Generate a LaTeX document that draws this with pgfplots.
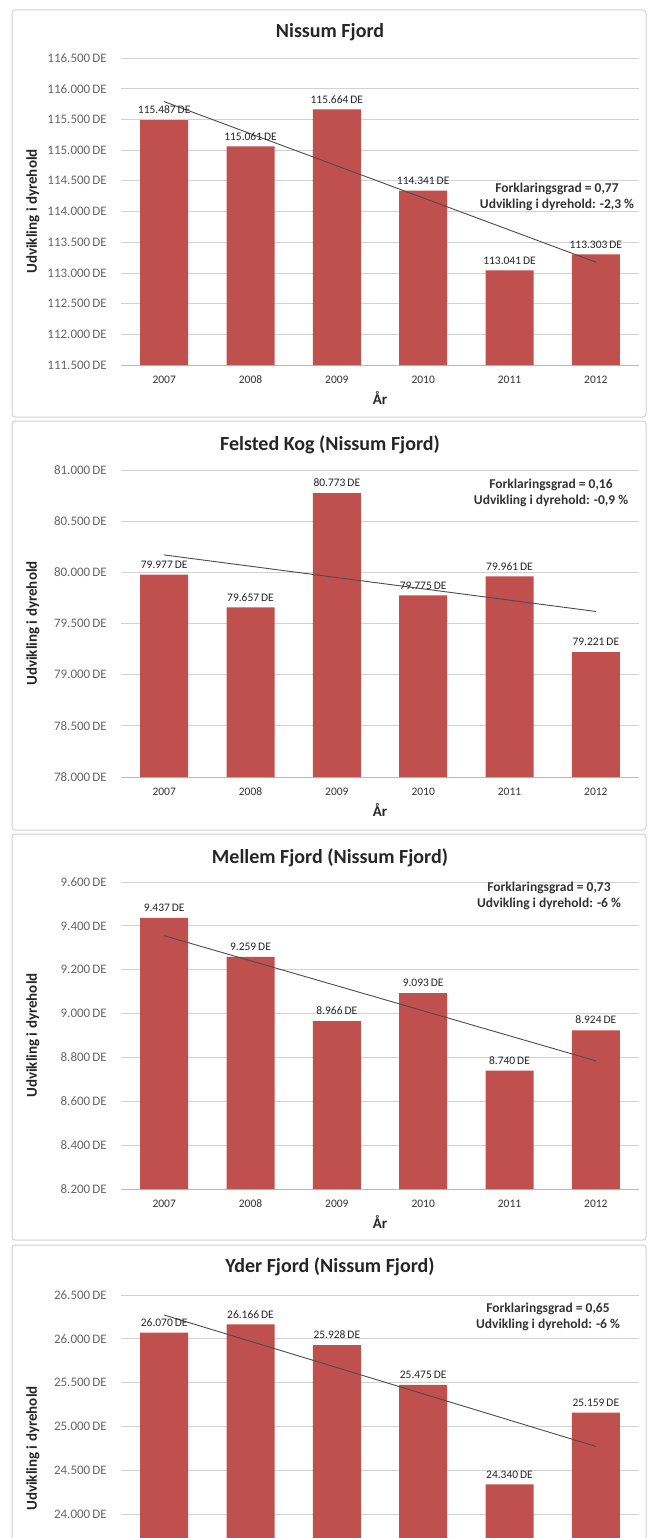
\documentclass[border=0pt]{standalone}
\usepackage{fontspec}
\setmainfont{Carlito}
\usepackage{pgfplots}
\usepackage{pgfplotstable}
\pgfplotsset{compat=1.18}
\definecolor{barred}{RGB}{192,80,77}

\pgfplotstableread{
x y
0 115487
1 115061
2 115664
3 114341
4 113041
5 113303
}\dataA
\pgfplotstableread{
x y
0 79977
1 79657
2 80773
3 79775
4 79961
5 79221
}\dataB
\pgfplotstableread{
x y
0 9437
1 9259
2 8966
3 9093
4 8740
5 8924
}\dataC
\pgfplotstableread{
x y
0 26070
1 26166
2 25928
3 25475
4 24340
5 25159
}\dataD

\pgfplotsset{
  panel/.style={
    scale only axis, width=518pt, height=307pt, anchor=north west,
    xmin=-0.5, xmax=5.5, enlargelimits=false,
    xtick={0,...,5}, xticklabels={2007,2008,2009,2010,2011,2012},
    scaled y ticks=false,
    axis x line*=bottom, axis y line*=left,
    y axis line style={draw=none},
    x axis line style={draw=gray!55, line width=0.8pt},
    major tick length=0pt,
    ymajorgrids, grid style={draw=gray!35, line width=0.8pt},
    yticklabel={\pgfmathprintnumber[fixed,precision=0,1000 sep={.},assume math mode=true]{\tick}\,DE},
    yticklabel style={font=\fontsize{13}{15}\selectfont, text=black!60, anchor=east, inner sep=0pt, xshift=-14pt},
    xticklabel style={font=\fontsize{11.5}{14}\selectfont, text=black!80, anchor=center, yshift=-15pt},
    xlabel={År},
    every axis x label/.style={at={(axis description cs:0.5,0)}, yshift=-33pt, anchor=center, font=\bfseries\fontsize{15}{18}\selectfont, text=black!85},
    ylabel={Udvikling i dyrehold},
    every axis y label/.style={at={(axis description cs:0,0.5)}, xshift=-88pt, rotate=90, anchor=center, font=\bfseries\fontsize{15}{18}\selectfont, text=black!85},
    clip=false,
  },
  bars/.style={ybar, bar width=48pt, fill=barred, draw=none,
    nodes near coords={\pgfmathprintnumber[fixed,precision=0,1000 sep={.},assume math mode=true]{\pgfplotspointmeta}\,DE},
    nodes near coords style={font=\fontsize{11.5}{13}\selectfont, text=black!85, anchor=south, inner sep=0pt, yshift=6pt},
  },
  trend/.style={black!70, line width=0.9pt, no markers, sharp plot},
}
\tikzset{
  frame/.style={draw=gray!35, line width=1pt, rounded corners=3pt},
  ttl/.style={font=\bfseries\fontsize{20}{24}\selectfont, text=black!85},
  ann/.style={font=\bfseries\fontsize{13.5}{16.5}\selectfont, text=black!80, align=center},
}

\begin{document}
\begin{tikzpicture}
\useasboundingbox[fill=white] (0pt,0pt) rectangle (650pt,-1538pt);
\clip (0pt,0pt) rectangle (650pt,-1538pt);
% frames
\draw[frame] (12pt,-10pt) rectangle (646pt,-417pt);
\draw[frame] (12pt,-421pt) rectangle (646pt,-830pt);
\draw[frame] (12pt,-834pt) rectangle (646pt,-1240pt);
\draw[frame] (12pt,-1245pt) rectangle (646pt,-1600pt);

% Panel 1
\begin{axis}[panel, at={(121pt,-58pt)}, ymin=111500, ymax=116500, ytick distance=500]
\addplot[bars] table[x=x,y=y]{\dataA};
\addplot[trend] table[x=x, y={create col/linear regression={y=y}}]{\dataA};
\end{axis}
\node[ttl] at (330pt,-32pt) {Nissum Fjord};
\node[ann] at (557pt,-197pt) {Forklaringsgrad = 0,77\\Udvikling i dyrehold: -2,3 \%};

% Panel 2
\begin{axis}[panel, at={(121pt,-470pt)}, ymin=78000, ymax=81000, ytick distance=500]
\addplot[bars] table[x=x,y=y]{\dataB};
\addplot[trend] table[x=x, y={create col/linear regression={y=y}}]{\dataB};
\end{axis}
\node[ttl] at (330pt,-445pt) {Felsted Kog (Nissum Fjord)};
\node[ann] at (551pt,-493pt) {Forklaringsgrad = 0,16\\Udvikling i dyrehold: -0,9 \%};

% Panel 3
\begin{axis}[panel, at={(121pt,-882pt)}, ymin=8200, ymax=9600, ytick distance=200]
\addplot[bars] table[x=x,y=y]{\dataC};
\addplot[trend] table[x=x, y={create col/linear regression={y=y}}]{\dataC};
\end{axis}
\node[ttl] at (330pt,-858pt) {Mellem Fjord (Nissum Fjord)};
\node[ann] at (549pt,-896pt) {Forklaringsgrad = 0,73\\Udvikling i dyrehold: -6 \%};

% Panel 4 (cut off at the bottom edge, as in the reference)
\begin{axis}[panel, at={(121pt,-1295pt)}, ymin=23000, ymax=26500,
  ytick={24000,24500,25000,25500,26000,26500}, xticklabels={}, xlabel={}]
\addplot[bars] table[x=x,y=y]{\dataD};
\addplot[trend] table[x=x, y={create col/linear regression={y=y}}]{\dataD};
\end{axis}
\node[ttl] at (330pt,-1267pt) {Yder Fjord (Nissum Fjord)};
\node[ann] at (548pt,-1317pt) {Forklaringsgrad = 0,65\\Udvikling i dyrehold: -6 \%};
\end{tikzpicture}
\end{document}
